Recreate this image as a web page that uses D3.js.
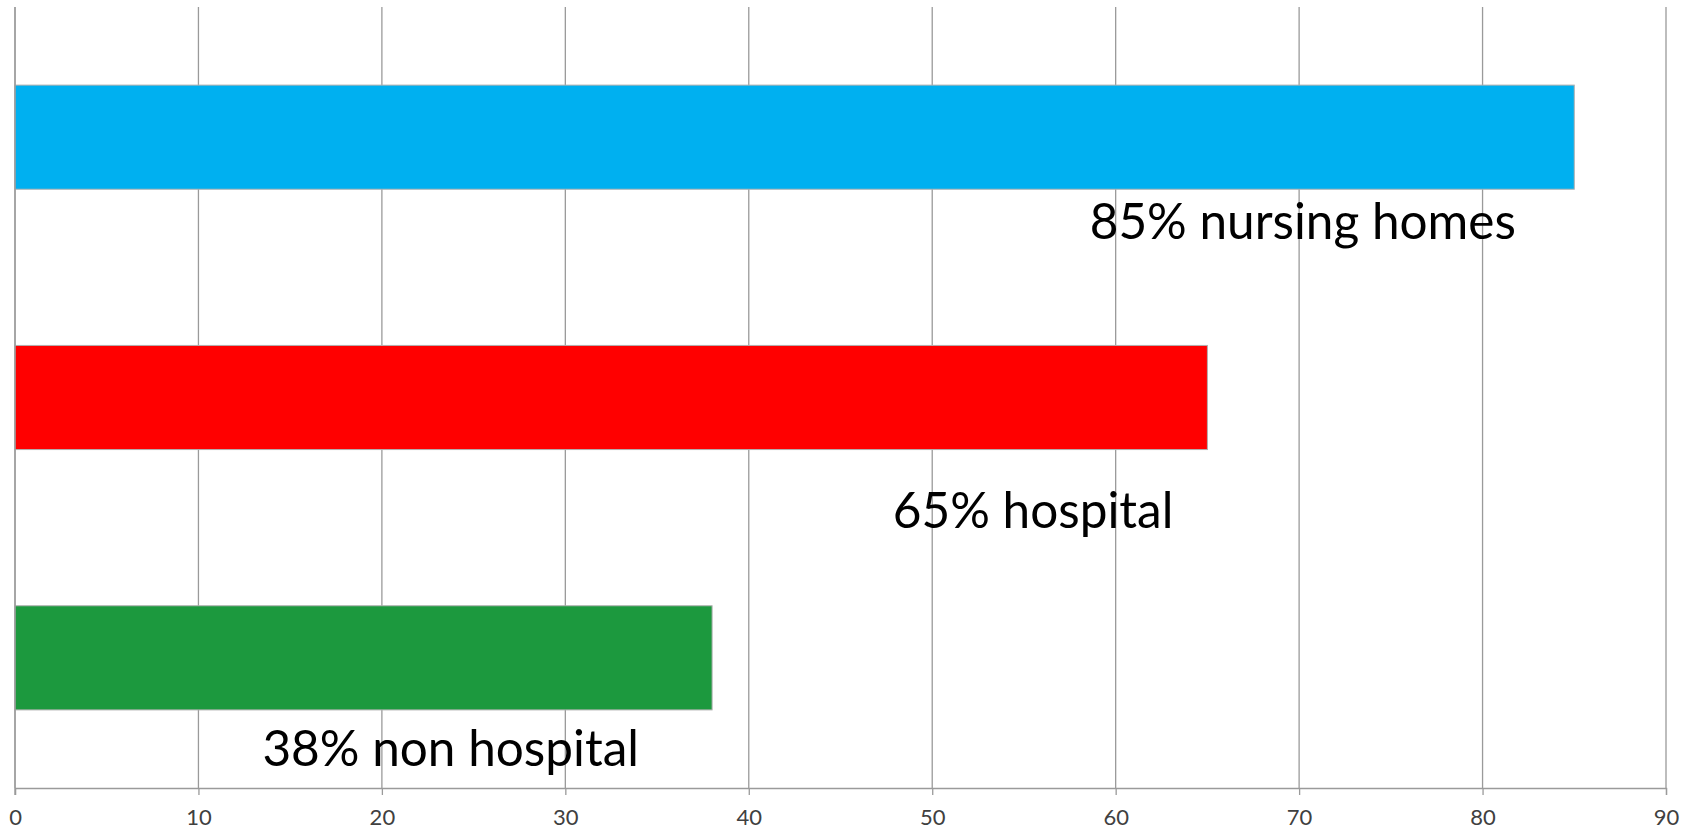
<!DOCTYPE html>
<html>
<head>
<meta charset="utf-8">
<script src="https://cdn.jsdelivr.net/npm/d3@7"></script>
<style>
  html, body { margin: 0; padding: 0; background: #fff; }
  svg { display: block; }
  .tick text { font-family: Lato, "Open Sans", sans-serif; fill: #404040; }
  .bar-label { font-family: Lato, "Open Sans", sans-serif; fill: #000; }
</style>
</head>
<body>
<svg id="chart" width="1692" height="833"></svg>
<script>
// Settings, top to bottom
const categories = ["nursing homes", "hospital", "non hospital"];
const values = [85, 65, 38];
const barColors = ["#00B0F0", "#FF0000", "#1C993E"];
const tickValues = [0, 10, 20, 30, 40, 50, 60, 70, 80, 90];

// Where each data label sits: centre along the value axis, and drop below the bar in px
const labelCentre = [70.2, 55.5, 23.75];
const labelDrop = [50, 78, 56];

const width = 1692, height = 833;
const margin = { top: 7, right: 26, bottom: 45, left: 15 };
const plotW = width - margin.left - margin.right;
const plotH = height - margin.top - margin.bottom;

const svg = d3.select("#chart");
const g = svg.append("g").attr("transform", `translate(${margin.left},${margin.top})`);

const x = d3.scaleLinear().domain([0, 90]).range([0, plotW]);
const y = d3.scaleBand().domain(categories).range([0, plotH]).paddingInner(0.6).paddingOuter(0.3);

// vertical gridlines
g.append("g")
  .selectAll("line")
  .data(tickValues)
  .join("line")
  .attr("x1", d => x(d)).attr("x2", d => x(d))
  .attr("y1", 0).attr("y2", plotH)
  .attr("stroke", "#9a9a9a")
  .attr("stroke-width", 1.3);

// bars
g.append("g")
  .selectAll("rect")
  .data(categories)
  .join("rect")
  .attr("x", x(0))
  .attr("y", d => y(d))
  .attr("width", (d, i) => x(values[i]) - x(0))
  .attr("height", y.bandwidth())
  .attr("fill", (d, i) => barColors[i])
  .attr("stroke", "#b0b0b0")
  .attr("stroke-width", 1);

// data labels
g.append("g")
  .selectAll("text")
  .data(categories)
  .join("text")
  .attr("class", "bar-label")
  .attr("x", (d, i) => x(labelCentre[i]))
  .attr("y", (d, i) => y(d) + y.bandwidth() + labelDrop[i])
  .attr("text-anchor", "middle")
  .attr("font-size", 49.5)
  .text((d, i) => `${values[i]}% ${d}`);

// bottom axis
const xAxis = d3.axisBottom(x).tickValues(tickValues).tickSize(7).tickPadding(14).tickFormat(d3.format("d"));
const ax = g.append("g").attr("transform", `translate(0,${plotH})`).call(xAxis);
ax.select(".domain").attr("stroke", "#9a9a9a").attr("stroke-width", 1.3);
ax.selectAll(".tick line").attr("stroke", "#9a9a9a").attr("stroke-width", 1.3);
ax.selectAll(".tick text").attr("font-size", 22);

// left axis line at zero
g.append("line")
  .attr("x1", x(0)).attr("x2", x(0))
  .attr("y1", 0).attr("y2", plotH + 7)
  .attr("stroke", "#9a9a9a").attr("stroke-width", 1.3);
</script>
</body>
</html>
